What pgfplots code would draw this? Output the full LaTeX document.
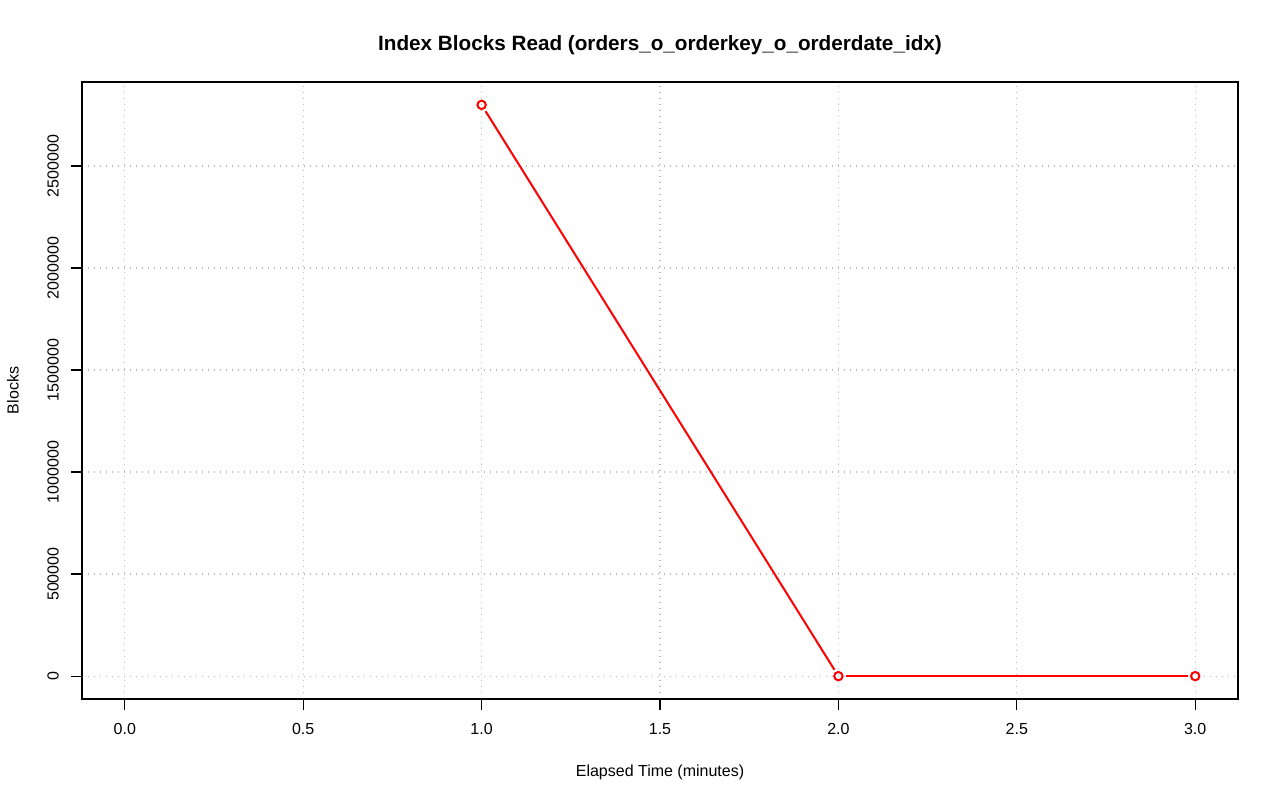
\documentclass[border=0pt]{standalone}
\usepackage{pgfplots}
\pgfplotsset{compat=1.18}
\usepackage{fontspec}
\setmainfont{Liberation Sans}
\begin{document}
\begin{tikzpicture}
\begin{axis}[
  scale only axis,
  width=1156pt, height=617pt,
  xmin=-0.12, xmax=3.12,
  ymin=-112000, ymax=2912000,
  axis line style={line width=1.8pt},
  tick align=outside,
  major tick length=10.5pt,
  tick style={black, line width=1.3pt},
  xtick={0,0.5,1,1.5,2,2.5,3},
  ytick={0,500000,1000000,1500000,2000000,2500000},
  xtick pos=bottom, ytick pos=left,
  xticklabel style={/pgf/number format/fixed, /pgf/number format/fixed zerofill, /pgf/number format/precision=1},
  yticklabel style={/pgf/number format/fixed, /pgf/number format/precision=0, /pgf/number format/1000 sep={}},
  scaled ticks=false,
  /pgf/number format/assume math mode=true,
  ticklabel style={font=\fontsize{16}{19}\selectfont},
  yticklabel style={rotate=90, anchor=center, inner sep=0pt, yshift=18.5pt},
  xticklabel style={anchor=center, inner sep=0pt, yshift=-19.5pt},
  grid=major,
  major grid style={color=black!27, line width=1.3pt, dash pattern=on 1.3pt off 4.7pt},
  title={\textbf{Index Blocks Read (orders\_o\_orderkey\_o\_orderdate\_idx)}},
  title style={font=\fontsize{20.7}{24}\selectfont, at={(0.5,1)}, anchor=center, yshift=31pt},
  xlabel={Elapsed Time (minutes)},
  ylabel={Blocks},
  label style={font=\fontsize{16}{19}\selectfont},
  xlabel style={at={(0.5,0)}, anchor=center, yshift=-73pt},
  ylabel style={at={(0,0.5)}, anchor=center, yshift=69pt},
]
\addplot[red, line width=2pt, shorten >=7.5pt, shorten <=7.5pt] coordinates {(1,2800000) (2,0)};
\addplot[red, line width=2pt, shorten >=7.5pt, shorten <=7.5pt] coordinates {(2,0) (3,0)};
\addplot[red, only marks, mark=o, mark size=4.2pt, mark options={line width=2pt}] coordinates {(1,2800000) (2,0) (3,0)};
\end{axis}
\path (current axis.south west) ++(-82pt,-102pt) rectangle ++(1280pt,801pt);
\end{tikzpicture}
\end{document}
